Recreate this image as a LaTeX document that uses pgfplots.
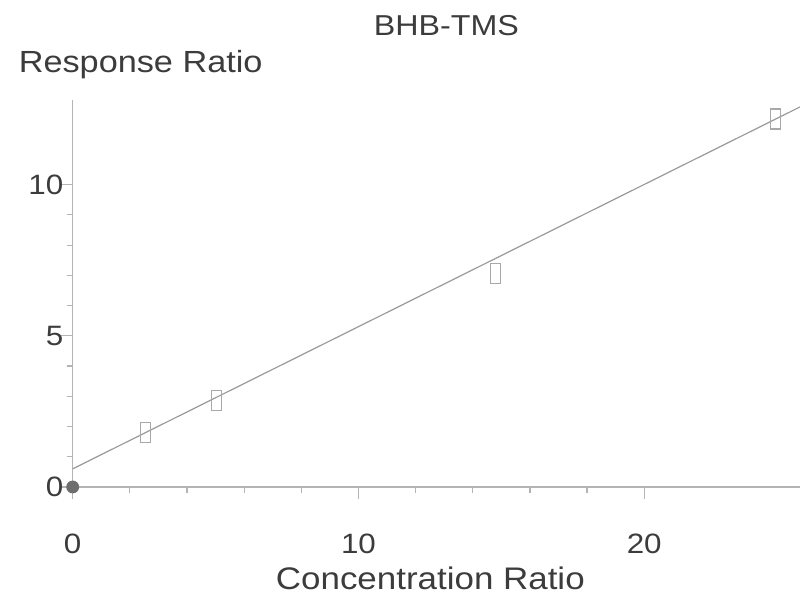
\documentclass[border=0pt]{standalone}
\usepackage{fontspec}
\setmainfont{Liberation Sans}[FakeStretch=1.12]
\usepackage{pgfplots}
\pgfplotsset{compat=1.18}
\definecolor{txt}{HTML}{3C3C3C}
\definecolor{axc}{HTML}{B4B4B4}
\definecolor{fitc}{HTML}{9A9A9A}
\definecolor{mk}{HTML}{A8A8A8}
\definecolor{dot}{HTML}{6E6E6E}
\begin{document}
\begin{tikzpicture}
\begin{axis}[
  name=ax,
  scale only axis,
  width=363.65pt, height=193.5pt,
  xmin=0, xmax=25.45, ymin=0, ymax=12.8,
  axis lines=left,
  axis line style={-, color=axc, line width=0.6pt},
  xtick={0,10,20}, ytick={0,5,10},
  minor x tick num=4, minor y tick num=4,
  tick align=outside,
  major tick length=6pt, minor tick length=3pt,
  tick style={color=axc, line width=0.6pt},
  /pgf/number format/assume math mode=true,
  ticklabel style={font=\fontsize{14}{16}\selectfont, text=txt},
  xticklabel style={anchor=center, yshift=-22.5pt},
  yticklabel style={anchor=east, inner sep=0pt, xshift=1.5pt},
  xlabel={Concentration Ratio},
  ylabel={Response Ratio},
  title={BHB-TMS},
  every axis x label/.style={at={(axis description cs:0.5,0)}, anchor=center, xshift=-3pt, yshift=-45.5pt, font=\fontsize{15.6}{17}\selectfont, text=txt},
  every axis y label/.style={at={(axis description cs:0,1)}, anchor=west, xshift=-30.5pt, yshift=17.5pt, font=\fontsize{15.3}{17}\selectfont, text=txt},
  every axis title/.style={at={(axis description cs:0.5,1)}, anchor=center, xshift=5pt, yshift=37pt, font=\fontsize{14.4}{16}\selectfont, text=txt},
  clip=false,
]
\addplot[fitc, line width=0.6pt, no marks] coordinates {(0,0.6) (25.45,12.57)};
\addplot[only marks, mark=square, mark size=5pt, mark options={xscale=0.5, draw=mk, line width=0.6pt}] coordinates {
(2.55,1.81) (5.04,2.86) (14.8,7.07) (24.6,12.17)};
\addplot[only marks, mark=*, mark size=3pt, mark options={fill=dot, draw=dot}] coordinates {(0,0)};
\end{axis}
\pgfresetboundingbox
\path[use as bounding box] ([xshift=-36.35pt,yshift=-53pt]ax.south west) rectangle ([yshift=50pt]ax.north east);
\end{tikzpicture}
\end{document}
